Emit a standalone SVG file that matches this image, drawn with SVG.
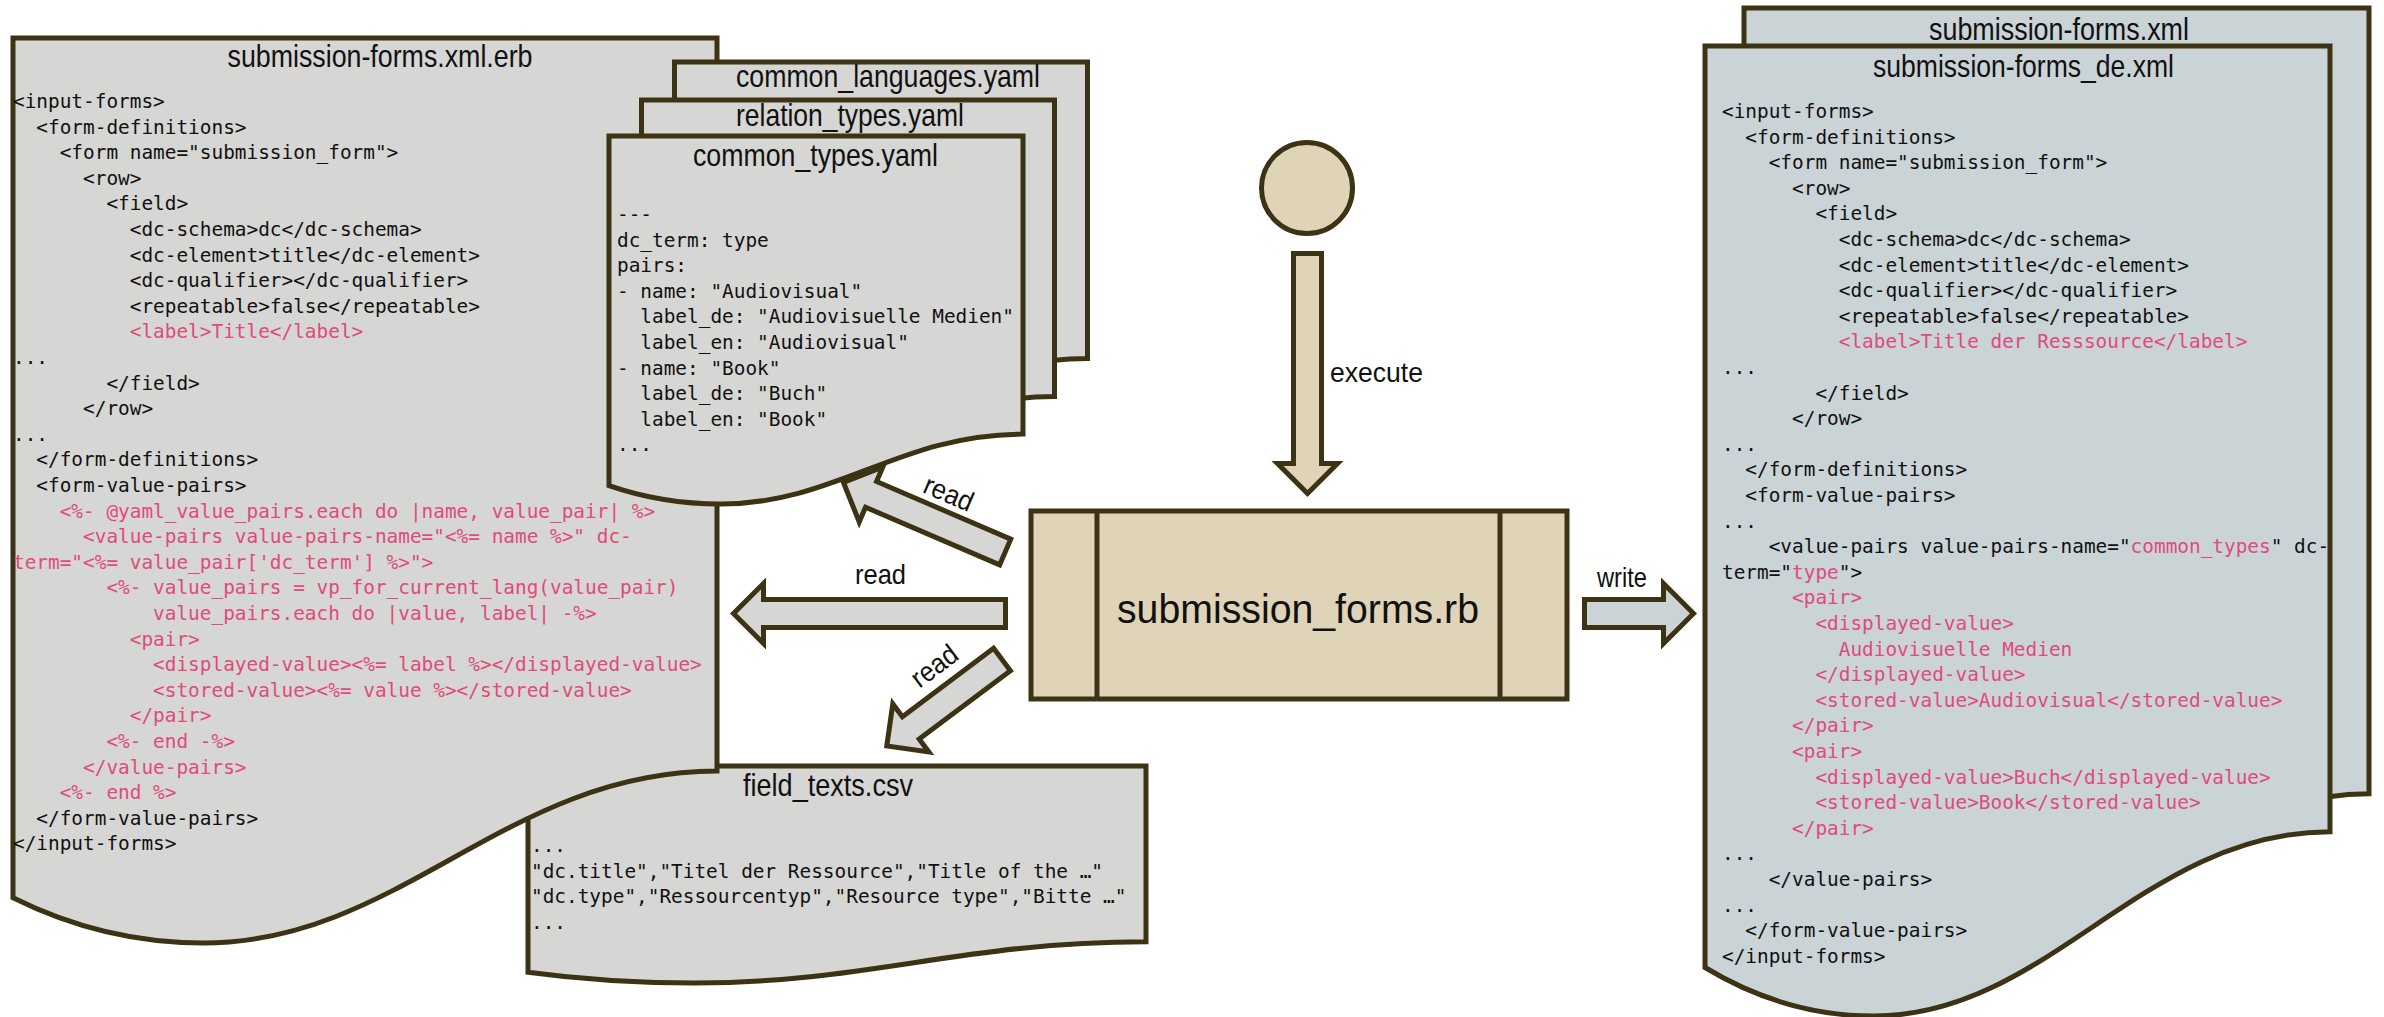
<svg xmlns="http://www.w3.org/2000/svg" width="2384" height="1017" viewBox="0 0 2384 1017">
<style>
.doc{fill:#d6d6d4;stroke:#3c3214;stroke-width:5;stroke-linejoin:miter}
.docb{fill:#cad3d6;stroke:#3c3214;stroke-width:5;stroke-linejoin:miter}
.beige{fill:#e0d4b8;stroke:#3c3214;stroke-width:5}
.ln{fill:none;stroke:#3c3214;stroke-width:5}
.arr{stroke:#3c3214;stroke-width:5;stroke-linejoin:miter;stroke-miterlimit:10}
.ag{fill:#d6d6d4}
.ab{fill:#e0d4b8}
.aw{fill:#cad3d6}
.code{font-family:'DejaVu Sans Mono',monospace;font-size:19.4px;fill:#111;white-space:pre}
.pk{fill:#e04a7e}
.title{font-family:'Liberation Sans',Arial,sans-serif;font-size:30.5px;fill:#111;text-anchor:middle}
.big{font-family:'Liberation Sans',Arial,sans-serif;font-size:41px;fill:#111;text-anchor:middle}
.lbl{font-family:'Liberation Sans',Arial,sans-serif;font-size:28px;fill:#111}
.mid{text-anchor:middle}
</style>

<g id="node-field-texts">
<path class="doc" d="M528,766 H1146 V941.8 C960.6,941.8 867.9,983 694.9,983 C639.2,983 583.6,979.7 528,972.2 Z"/>
<text class="title" x="828" y="796" textLength="170" lengthAdjust="spacingAndGlyphs">field_texts.csv</text>
<text class="code" xml:space="preserve" x="531" y="852">...</text>
<text class="code" xml:space="preserve" x="531" y="877.6">"dc.title","Titel der Ressource","Title of the …"</text>
<text class="code" xml:space="preserve" x="531" y="903.2">"dc.type","Ressourcentyp","Resource type","Bitte …"</text>
<text class="code" xml:space="preserve" x="531" y="928.8">...</text>
</g>

<g id="node-erb">
<path class="doc" d="M13,38 H717 V771 C505.8,771 400.2,943 203.1,943 C139.7,943 76.4,929.4 13,897.8 Z"/>
<text class="title" x="380" y="67" textLength="305" lengthAdjust="spacingAndGlyphs">submission-forms.xml.erb</text>
<text class="code" xml:space="preserve" x="13" y="108">&lt;input-forms&gt;</text>
<text class="code" xml:space="preserve" x="13" y="133.6">  &lt;form-definitions&gt;</text>
<text class="code" xml:space="preserve" x="13" y="159.2">    &lt;form name="submission_form"&gt;</text>
<text class="code" xml:space="preserve" x="13" y="184.8">      &lt;row&gt;</text>
<text class="code" xml:space="preserve" x="13" y="210.4">        &lt;field&gt;</text>
<text class="code" xml:space="preserve" x="13" y="236">          &lt;dc-schema&gt;dc&lt;/dc-schema&gt;</text>
<text class="code" xml:space="preserve" x="13" y="261.6">          &lt;dc-element&gt;title&lt;/dc-element&gt;</text>
<text class="code" xml:space="preserve" x="13" y="287.2">          &lt;dc-qualifier&gt;&lt;/dc-qualifier&gt;</text>
<text class="code" xml:space="preserve" x="13" y="312.8">          &lt;repeatable&gt;false&lt;/repeatable&gt;</text>
<text class="code pk" xml:space="preserve" x="13" y="338.4">          &lt;label&gt;Title&lt;/label&gt;</text>
<text class="code" xml:space="preserve" x="13" y="364">...</text>
<text class="code" xml:space="preserve" x="13" y="389.6">        &lt;/field&gt;</text>
<text class="code" xml:space="preserve" x="13" y="415.2">      &lt;/row&gt;</text>
<text class="code" xml:space="preserve" x="13" y="440.8">...</text>
<text class="code" xml:space="preserve" x="13" y="466.4">  &lt;/form-definitions&gt;</text>
<text class="code" xml:space="preserve" x="13" y="492">  &lt;form-value-pairs&gt;</text>
<text class="code pk" xml:space="preserve" x="13" y="517.6">    &lt;%- @yaml_value_pairs.each do |name, value_pair| %&gt;</text>
<text class="code pk" xml:space="preserve" x="13" y="543.2">      &lt;value-pairs value-pairs-name="&lt;%= name %&gt;" dc-</text>
<text class="code pk" xml:space="preserve" x="13" y="568.8">term="&lt;%= value_pair['dc_term'] %&gt;"&gt;</text>
<text class="code pk" xml:space="preserve" x="13" y="594.4">        &lt;%- value_pairs = vp_for_current_lang(value_pair)</text>
<text class="code pk" xml:space="preserve" x="13" y="620">            value_pairs.each do |value, label| -%&gt;</text>
<text class="code pk" xml:space="preserve" x="13" y="645.6">          &lt;pair&gt;</text>
<text class="code pk" xml:space="preserve" x="13" y="671.2">            &lt;displayed-value&gt;&lt;%= label %&gt;&lt;/displayed-value&gt;</text>
<text class="code pk" xml:space="preserve" x="13" y="696.8">            &lt;stored-value&gt;&lt;%= value %&gt;&lt;/stored-value&gt;</text>
<text class="code pk" xml:space="preserve" x="13" y="722.4">          &lt;/pair&gt;</text>
<text class="code pk" xml:space="preserve" x="13" y="748">        &lt;%- end -%&gt;</text>
<text class="code pk" xml:space="preserve" x="13" y="773.6">      &lt;/value-pairs&gt;</text>
<text class="code pk" xml:space="preserve" x="13" y="799.2">    &lt;%- end %&gt;</text>
<text class="code" xml:space="preserve" x="13" y="824.8">  &lt;/form-value-pairs&gt;</text>
<text class="code" xml:space="preserve" x="13" y="850.4">&lt;/input-forms&gt;</text>
</g>

<g id="node-common-languages">
<path class="doc" d="M674.5,62 H1087.5 V358.5 C963.6,358.5 901.7,428 786,428 C748.8,428 711.7,422.5 674.5,409.7 Z"/>
<text class="title" x="888" y="87" textLength="304" lengthAdjust="spacingAndGlyphs">common_languages.yaml</text>
</g>

<g id="node-relation-types">
<path class="doc" d="M641.5,100 H1054.5 V396.5 C930.6,396.5 868.7,466 753,466 C715.8,466 678.7,460.5 641.5,447.7 Z"/>
<text class="title" x="850" y="126" textLength="228" lengthAdjust="spacingAndGlyphs">relation_types.yaml</text>
</g>

<g id="node-common-types">
<path class="doc" d="M609,136 H1023 V434.1 C898.8,434.1 836.7,504 720.8,504 C683.5,504 646.3,498.5 609,485.6 Z"/>
<text class="title" x="815.5" y="166" textLength="245" lengthAdjust="spacingAndGlyphs">common_types.yaml</text>
<text class="code" xml:space="preserve" x="617" y="221">---</text>
<text class="code" xml:space="preserve" x="617" y="246.6">dc_term: type</text>
<text class="code" xml:space="preserve" x="617" y="272.2">pairs:</text>
<text class="code" xml:space="preserve" x="617" y="297.8">- name: "Audiovisual"</text>
<text class="code" xml:space="preserve" x="617" y="323.4">  label_de: "Audiovisuelle Medien"</text>
<text class="code" xml:space="preserve" x="617" y="349">  label_en: "Audiovisual"</text>
<text class="code" xml:space="preserve" x="617" y="374.6">- name: "Book"</text>
<text class="code" xml:space="preserve" x="617" y="400.2">  label_de: "Buch"</text>
<text class="code" xml:space="preserve" x="617" y="425.8">  label_en: "Book"</text>
<text class="code" xml:space="preserve" x="617" y="451.4">...</text>
</g>

<g id="node-start">
<circle class="beige" cx="1307" cy="188" r="45.5"/>
</g>

<g id="node-script">
<rect class="beige" x="1031" y="511" width="536" height="188" stroke-width="6"/>
<line class="ln" x1="1097" y1="511" x2="1097" y2="699"/>
<line class="ln" x1="1500" y1="511" x2="1500" y2="699"/>
<text class="big" x="1298" y="623" textLength="362" lengthAdjust="spacingAndGlyphs">submission_forms.rb</text>
</g>

<g id="node-xml">
<path class="docb" d="M1744,8 H2369 V793.7 C2181.5,793.7 2087.8,978 1912.8,978 C1856.5,978 1800.3,963.5 1744,929.5 Z"/>
<text class="title" x="2059" y="40" textLength="260" lengthAdjust="spacingAndGlyphs">submission-forms.xml</text>
</g>

<g id="node-xml-de">
<path class="docb" d="M1705,46 H2330 V831.7 C2142.5,831.7 2048.8,1016 1873.8,1016 C1817.5,1016 1761.3,1001.5 1705,967.5 Z"/>
<text class="title" x="2023.5" y="77" textLength="301" lengthAdjust="spacingAndGlyphs">submission-forms_de.xml</text>
<text class="code" xml:space="preserve" x="1722" y="118">&lt;input-forms&gt;</text>
<text class="code" xml:space="preserve" x="1722" y="143.6">  &lt;form-definitions&gt;</text>
<text class="code" xml:space="preserve" x="1722" y="169.2">    &lt;form name="submission_form"&gt;</text>
<text class="code" xml:space="preserve" x="1722" y="194.8">      &lt;row&gt;</text>
<text class="code" xml:space="preserve" x="1722" y="220.4">        &lt;field&gt;</text>
<text class="code" xml:space="preserve" x="1722" y="246">          &lt;dc-schema&gt;dc&lt;/dc-schema&gt;</text>
<text class="code" xml:space="preserve" x="1722" y="271.6">          &lt;dc-element&gt;title&lt;/dc-element&gt;</text>
<text class="code" xml:space="preserve" x="1722" y="297.2">          &lt;dc-qualifier&gt;&lt;/dc-qualifier&gt;</text>
<text class="code" xml:space="preserve" x="1722" y="322.8">          &lt;repeatable&gt;false&lt;/repeatable&gt;</text>
<text class="code pk" xml:space="preserve" x="1722" y="348.4">          &lt;label&gt;Title der Resssource&lt;/label&gt;</text>
<text class="code" xml:space="preserve" x="1722" y="374">...</text>
<text class="code" xml:space="preserve" x="1722" y="399.6">        &lt;/field&gt;</text>
<text class="code" xml:space="preserve" x="1722" y="425.2">      &lt;/row&gt;</text>
<text class="code" xml:space="preserve" x="1722" y="450.8">...</text>
<text class="code" xml:space="preserve" x="1722" y="476.4">  &lt;/form-definitions&gt;</text>
<text class="code" xml:space="preserve" x="1722" y="502">  &lt;form-value-pairs&gt;</text>
<text class="code" xml:space="preserve" x="1722" y="527.6">...</text>
<text class="code" xml:space="preserve" x="1722" y="553.2">    &lt;value-pairs value-pairs-name="<tspan class="pk">common_types</tspan>" dc-</text>
<text class="code" xml:space="preserve" x="1722" y="578.8">term="<tspan class="pk">type</tspan>"&gt;</text>
<text class="code pk" xml:space="preserve" x="1722" y="604.4">      &lt;pair&gt;</text>
<text class="code pk" xml:space="preserve" x="1722" y="630">        &lt;displayed-value&gt;</text>
<text class="code pk" xml:space="preserve" x="1722" y="655.6">          Audiovisuelle Medien</text>
<text class="code pk" xml:space="preserve" x="1722" y="681.2">        &lt;/displayed-value&gt;</text>
<text class="code pk" xml:space="preserve" x="1722" y="706.8">        &lt;stored-value&gt;Audiovisual&lt;/stored-value&gt;</text>
<text class="code pk" xml:space="preserve" x="1722" y="732.4">      &lt;/pair&gt;</text>
<text class="code pk" xml:space="preserve" x="1722" y="758">      &lt;pair&gt;</text>
<text class="code pk" xml:space="preserve" x="1722" y="783.6">        &lt;displayed-value&gt;Buch&lt;/displayed-value&gt;</text>
<text class="code pk" xml:space="preserve" x="1722" y="809.2">        &lt;stored-value&gt;Book&lt;/stored-value&gt;</text>
<text class="code pk" xml:space="preserve" x="1722" y="834.8">      &lt;/pair&gt;</text>
<text class="code" xml:space="preserve" x="1722" y="860.4">...</text>
<text class="code" xml:space="preserve" x="1722" y="886">    &lt;/value-pairs&gt;</text>
<text class="code" xml:space="preserve" x="1722" y="911.6">...</text>
<text class="code" xml:space="preserve" x="1722" y="937.2">  &lt;/form-value-pairs&gt;</text>
<text class="code" xml:space="preserve" x="1722" y="962.8">&lt;/input-forms&gt;</text>
</g>

<g id="connectors">
<g id="edge-execute">
<path class="arr ab" transform="translate(1307.5,253.5) rotate(90)" d="M0,-14 H210 V-30 L240,0 L210,30 V14 H0 Z"/>
<text class="lbl" x="1330" y="382" textLength="93" lengthAdjust="spacingAndGlyphs">execute</text>
</g>
<g id="edge-read-yaml">
<path class="arr ag" transform="translate(1005.2,552) rotate(203.25)" d="M0,-14 H146 V-30 L176,0 L146,30 V14 H0 Z"/>
<text class="lbl mid" transform="translate(945,502) rotate(23.25)" textLength="51" lengthAdjust="spacingAndGlyphs">read</text>
</g>
<g id="edge-read-erb">
<path class="arr ag" transform="translate(1005.5,613.5) rotate(180)" d="M0,-14 H242 V-30 L272,0 L242,30 V14 H0 Z"/>
<text class="lbl mid" x="880.5" y="584" textLength="51" lengthAdjust="spacingAndGlyphs">read</text>
</g>
<g id="edge-read-csv">
<path class="arr ag" transform="translate(1002,659.5) rotate(143.13)" d="M0,-14 H114 V-30 L144,0 L114,30 V14 H0 Z"/>
<text class="lbl mid" transform="translate(940,673.5) rotate(-36.87)" textLength="51" lengthAdjust="spacingAndGlyphs">read</text>
</g>
<g id="edge-write">
<path class="arr aw" transform="translate(1584.5,613.5)" d="M0,-14 H79 V-30 L109,0 L79,30 V14 H0 Z"/>
<text class="lbl mid" x="1622" y="587" textLength="50" lengthAdjust="spacingAndGlyphs">write</text>
</g>
</g>
</svg>
